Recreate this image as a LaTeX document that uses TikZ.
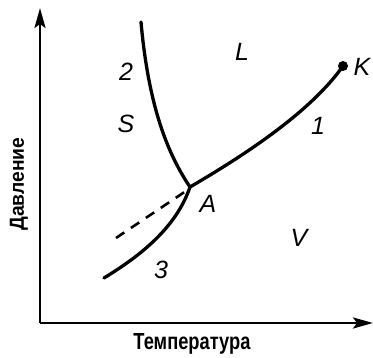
\documentclass[tikz,border=0pt]{standalone}
\usepackage{fontspec}
\setmainfont{Liberation Sans}
\usetikzlibrary{arrows.meta}
\begin{document}
\begin{tikzpicture}[x=1pt,y=-1pt,
  axis/.style={line width=2.8pt,-{Stealth[length=20pt,width=11pt,inset=4pt]}},
  curve/.style={line width=3.3pt,line cap=round},
  dashcurve/.style={line width=2.6pt,dash pattern=on 10pt off 8pt},
  lbl/.style={inner sep=0pt,font=\fontsize{25}{25}\selectfont\itshape},
  axlbl/.style={inner sep=0pt,font=\bfseries}]
\useasboundingbox (0,0) rectangle (373,358);
\coordinate (O) at (40,323);
\coordinate (ytip) at (40,8);
\coordinate (xtip) at (373,323);
\draw[axis] (O) -- (ytip);
\draw[axis] (O) -- (xtip);
\coordinate (A) at (190,187);
\coordinate (K) at (343,66);
\coordinate (c2) at (141,22);
\coordinate (c3) at (104,278);
\coordinate (d1) at (116,238);
\coordinate (d2) at (186,191);
\draw[curve] (A) .. controls (250,152) and (312,110) .. (K);
\draw[curve] (c2) .. controls (148,100) and (165,150) .. (A);
\draw[curve] (c3) .. controls (140,256) and (176,228) .. (A);
\draw[dashcurve] (d1) -- (d2);
\fill (K) circle (5pt);
\node[lbl] (lK) at (362,67) {K};
\node[lbl] (lL) at (242,52) {L};
\node[lbl] (l2) at (126,72) {2};
\node[lbl] (lS) at (126,124) {S};
\node[lbl] (l1) at (318,126) {1};
\node[lbl] (lA) at (208,204) {A};
\node[lbl] (lV) at (299,238) {V};
\node[lbl] (l3) at (161,270) {3};
\node[axlbl] (tx) at (192,344) {\resizebox{117pt}{16pt}{Температура}};
\node[axlbl,rotate=90] (ty) at (19,184) {\resizebox{93pt}{14pt}{Давление}};
\end{tikzpicture}
\end{document}
